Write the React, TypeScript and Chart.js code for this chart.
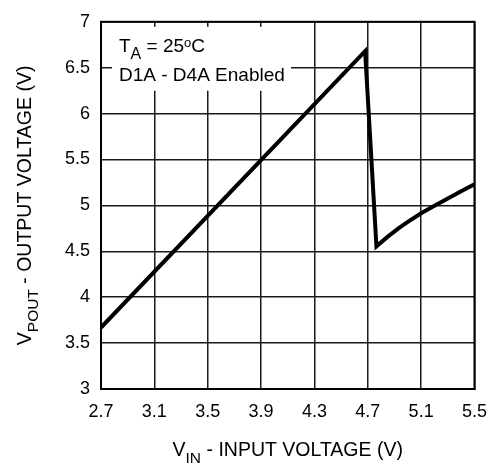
import React, { useEffect, useRef } from "react";
import { Chart, registerables } from "chart.js";

Chart.register(...registerables);

const X_TICKS = [2.7, 3.1, 3.5, 3.9, 4.3, 4.7, 5.1, 5.5];
const Y_TICKS = [3, 3.5, 4, 4.5, 5, 5.5, 6, 6.5, 7];
const VIN = [2.7, 4.68, 4.765, 4.85, 4.93, 5.0, 5.1, 5.2, 5.3, 5.4, 5.5];
const VPOUT = [3.67, 6.68, 4.555, 4.66, 4.75, 4.82, 4.915, 4.995, 5.075, 5.155, 5.23];

const FONT = "'Liberation Sans', Arial, sans-serif";

type Part = { t: string; size: number; dy: number };

function drawRich(ctx: CanvasRenderingContext2D, parts: Part[], x: number, y: number, align: "left" | "center") {
  let total = 0;
  const widths = parts.map((p) => {
    ctx.font = `${p.size}px ${FONT}`;
    const w = ctx.measureText(p.t).width;
    total += w;
    return w;
  });
  let cx = align === "center" ? x - total / 2 : x;
  ctx.textAlign = "left";
  ctx.textBaseline = "alphabetic";
  parts.forEach((p, i) => {
    ctx.font = `${p.size}px ${FONT}`;
    ctx.fillText(p.t, cx, y + p.dy);
    cx += widths[i];
  });
}

const decorPlugin = {
  id: "decor",
  beforeDatasetsDraw(chart: any) {
    const { ctx, chartArea: a } = chart;
    ctx.save();
    ctx.fillStyle = "#ffffff";
    ctx.fillRect(a.left + 11, a.top + 5, 179, 64);
    ctx.restore();
  },
  afterDraw(chart: any) {
    const { ctx, chartArea: a } = chart;
    ctx.save();
    ctx.strokeStyle = "#000";
    ctx.lineWidth = 2;
    ctx.strokeRect(a.left, a.top, a.right - a.left, a.bottom - a.top);
    ctx.fillStyle = "#000";
    drawRich(ctx, [
      { t: "T", size: 19, dy: 0 },
      { t: "A", size: 16, dy: 7 },
      { t: " = 25", size: 19, dy: 0 },
      { t: "o", size: 13, dy: -5 },
      { t: "C", size: 19, dy: 0 },
    ], a.left + 18, a.top + 30, "left");
    drawRich(ctx, [{ t: "D1A - D4A Enabled", size: 19, dy: 0 }], a.left + 18, a.top + 59, "left");
    drawRich(ctx, [
      { t: "V", size: 19.5, dy: 0 },
      { t: "IN", size: 15.5, dy: 7 },
      { t: " - INPUT VOLTAGE (V)", size: 19.5, dy: 0 },
    ], (a.left + a.right) / 2, 456, "center");
    ctx.translate(31, (a.top + a.bottom) / 2);
    ctx.rotate(-Math.PI / 2);
    drawRich(ctx, [
      { t: "V", size: 19.5, dy: 0 },
      { t: "POUT", size: 15.5, dy: 7 },
      { t: " - OUTPUT VOLTAGE (V)", size: 19.5, dy: 0 },
    ], 0, 0, "center");
    ctx.restore();
  },
};

export default function App() {
  const ref = useRef<HTMLCanvasElement>(null);
  useEffect(() => {
    document.body.style.margin = "0";
    const chart = new Chart(ref.current!, {
      type: "line",
      data: {
        datasets: [
          {
            data: VIN.map((x, i) => ({ x, y: VPOUT[i] })),
            borderColor: "#000",
            borderWidth: 4,
            pointRadius: 0,
            tension: 0,
            borderJoinStyle: "miter",
            borderCapStyle: "butt",
          },
        ],
      },
      options: {
        animation: false,
        responsive: false,
        maintainAspectRatio: false,
        layout: { padding: { left: 0, top: 15, right: 23, bottom: 0 } },
        plugins: { legend: { display: false }, tooltip: { enabled: false } },
        scales: {
          x: {
            type: "linear",
            min: 2.7,
            max: 5.5,
            afterBuildTicks: (s: any) => {
              s.ticks = X_TICKS.map((v) => ({ value: v }));
            },
            afterFit: (s: any) => {
              s.height = 77;
            },
            grid: { color: "#1a1a1a", lineWidth: 1.5, drawTicks: false },
            border: { color: "#000", width: 2 },
            ticks: {
              color: "#000",
              padding: 12,
              maxRotation: 0,
              font: { family: FONT, size: 18 },
              callback: (v: any) => Number(v).toFixed(1),
            },
          },
          y: {
            type: "linear",
            min: 3,
            max: 7,
            afterBuildTicks: (s: any) => {
              s.ticks = Y_TICKS.map((v) => ({ value: v }));
            },
            afterFit: (s: any) => {
              s.width = 101;
            },
            grid: { color: "#1a1a1a", lineWidth: 1.5, drawTicks: false },
            border: { color: "#000", width: 2 },
            ticks: {
              color: "#000",
              padding: 11,
              font: { family: FONT, size: 18 },
              callback: (v: any) => String(Number(v)),
            },
          },
        },
      },
      plugins: [decorPlugin],
    });
    return () => chart.destroy();
  }, []);
  return <canvas ref={ref} width={499} height={466} style={{ display: "block" }} />;
}
